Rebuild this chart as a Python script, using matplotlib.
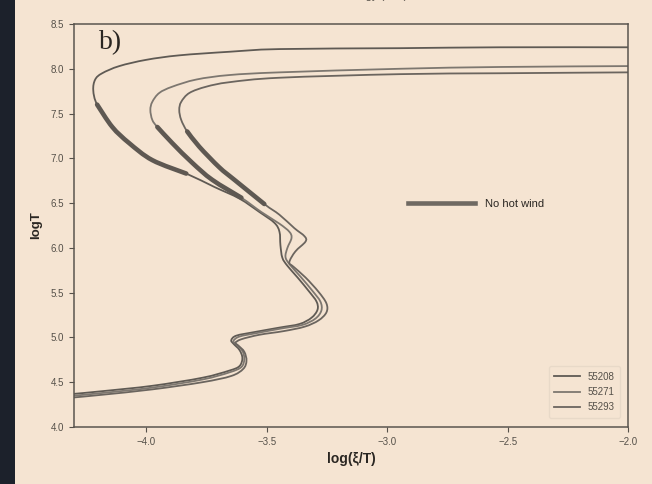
import numpy as np
import matplotlib
matplotlib.use("Agg")
import matplotlib.pyplot as plt
from matplotlib.lines import Line2D
from matplotlib.patches import Rectangle, PathPatch
from matplotlib.path import Path

# ---------------- data ----------------
labels = ["55208", "55271", "55293"]

x_55208 = [-4.30, -4.183, -3.975, -3.767, -3.655, -3.613, -3.601, -3.613, -3.638, -3.647,
           -3.626, -3.551, -3.447, -3.364, -3.314, -3.289, -3.293, -3.323, -3.372, -3.414,
           -3.435, -3.443, -3.447, -3.468, -3.530, -3.613, -3.717, -3.834, -3.975, -4.071,
           -4.141, -4.204, -4.220, -4.212, -4.183, -4.112, -4.000, -3.863, -3.655, -3.447,
           -2.948, -2.533, -2.0]
y_55208 = [4.37, 4.40, 4.46, 4.55, 4.63, 4.68, 4.77, 4.86, 4.93, 4.97,
           5.02, 5.06, 5.11, 5.15, 5.22, 5.31, 5.40, 5.51, 5.67, 5.80,
           5.89, 6.03, 6.18, 6.28, 6.40, 6.55, 6.68, 6.83, 6.98, 7.17,
           7.35, 7.60, 7.76, 7.88, 7.95, 8.03, 8.10, 8.15, 8.19, 8.22,
           8.23, 8.24, 8.24]

x_55271 = [-4.30, -4.183, -3.975, -3.767, -3.655, -3.605, -3.593, -3.601, -3.626, -3.638,
           -3.613, -3.539, -3.439, -3.352, -3.298, -3.273, -3.277, -3.310, -3.360, -3.406,
           -3.422, -3.414, -3.397, -3.406, -3.447, -3.522, -3.605, -3.726, -3.809, -3.892,
           -3.954, -3.975, -3.983, -3.975, -3.946, -3.892, -3.792, -3.655, -3.447, -2.948,
           -2.533, -2.0]
y_55271 = [4.35, 4.38, 4.44, 4.53, 4.61, 4.67, 4.76, 4.85, 4.92, 4.96,
           5.01, 5.05, 5.10, 5.14, 5.21, 5.30, 5.40, 5.52, 5.68, 5.82,
           5.90, 6.00, 6.11, 6.18, 6.27, 6.40, 6.56, 6.76, 6.95, 7.17,
           7.35, 7.43, 7.54, 7.63, 7.73, 7.80, 7.88, 7.93, 7.96, 8.00,
           8.02, 8.03]

x_55293 = [-4.30, -4.183, -3.975, -3.767, -3.647, -3.597, -3.584, -3.593, -3.618, -3.630,
           -3.605, -3.530, -3.431, -3.343, -3.285, -3.252, -3.252, -3.285, -3.339, -3.389,
           -3.406, -3.381, -3.339, -3.343, -3.385, -3.447, -3.510, -3.634, -3.697, -3.780,
           -3.830, -3.855, -3.863, -3.855, -3.821, -3.751, -3.655, -3.447, -2.948, -2.533,
           -2.0]
y_55293 = [4.33, 4.36, 4.42, 4.50, 4.57, 4.65, 4.74, 4.84, 4.91, 4.94,
           4.98, 5.03, 5.07, 5.12, 5.19, 5.28, 5.38, 5.51, 5.67, 5.79,
           5.84, 5.96, 6.07, 6.13, 6.22, 6.37, 6.49, 6.76, 6.90, 7.13,
           7.30, 7.43, 7.54, 7.63, 7.73, 7.80, 7.85, 7.90, 7.94, 7.95,
           7.96]

# logT range of the "no hot wind" (thick) part of each curve
nohw_lo = [6.83, 6.56, 6.49]
nohw_hi = [7.60, 7.35, 7.30]

xticks = [-4.0, -3.5, -3.0, -2.5, -2.0]
yticks = [4.0, 4.5, 5.0, 5.5, 6.0, 6.5, 7.0, 7.5, 8.0, 8.5]

# ---------------- style ----------------
BG = "#f5e4d2"
DARK = "#1c212b"
line_colors = ["#5f5a54", "#7d7770", "#6b655f"]
thick_color = "#5e5852"

plt.rcParams["font.family"] = ["Liberation Sans", "DejaVu Sans"]


def smooth_path(xv, yv):
    """Smooth curve through the data points (Catmull-Rom drawn as cubic Beziers)."""
    p = np.column_stack([xv, yv])
    n = len(p)
    verts = [p[0]]
    codes = [Path.MOVETO]
    for i in range(n - 1):
        p0 = p[i - 1] if i > 0 else p[i]
        p1 = p[i]
        p2 = p[i + 1]
        p3 = p[i + 2] if i + 2 < n else p[i + 1]
        c1 = p1 + (p2 - p0) / 6.0
        c2 = p2 - (p3 - p1) / 6.0
        verts += [c1, c2, p2]
        codes += [Path.CURVE4] * 3
    return Path(verts, codes)


fig = plt.figure(figsize=(6.52, 4.84), dpi=100, facecolor=BG)
ax = fig.add_axes([74 / 652, 1 - 427 / 484, (628 - 74) / 652, (427 - 24) / 484])
ax.set_facecolor(BG)

# dark strip at the left edge of the screenshot
fig.patches.append(Rectangle((0, 0), 15 / 652, 1, transform=fig.transFigure,
                             facecolor=DARK, edgecolor="none", zorder=-1))

xs = [x_55208, x_55271, x_55293]
ys = [y_55208, y_55271, y_55293]

handles = []
for xv, yv, c, lab, lo, hi in zip(xs, ys, line_colors, labels, nohw_lo, nohw_hi):
    xv = np.asarray(xv)
    yv = np.asarray(yv)
    ax.add_patch(PathPatch(smooth_path(xv, yv), facecolor="none", edgecolor=c,
                           lw=1.3, capstyle="round", joinstyle="round", zorder=2))
    handles.append(Line2D([], [], color=c, lw=1.3, label=lab))
    idx = np.where((yv >= lo - 1e-6) & (yv <= hi + 1e-6))[0]
    i0, i1 = idx.min(), idx.max()
    ax.add_patch(PathPatch(smooth_path(xv[i0:i1 + 1], yv[i0:i1 + 1]), facecolor="none",
                           edgecolor=thick_color, lw=3.3, capstyle="round",
                           joinstyle="round", zorder=3))

ax.set_xlim(-4.3, -2.0)
ax.set_ylim(4.0, 8.5)
ax.set_xticks(xticks)
ax.set_yticks(yticks)
ax.set_xticklabels([f"{t:.1f}".replace("-", "\u2212") for t in xticks])
ax.set_yticklabels([f"{t:.1f}" for t in yticks])
ax.tick_params(labelsize=7, colors="#555049", length=3.5, width=0.8)
for s in ax.spines.values():
    s.set_color("#5a554f")
    s.set_linewidth(1.1)

ax.set_xlabel("log(\u03be/T)", fontsize=10, fontweight="bold", color="#2a2622", labelpad=4)
ax.set_ylabel("logT", fontsize=9.5, fontweight="bold", color="#2a2622", labelpad=6)

ax.text(0.045, 0.985, "b)", transform=ax.transAxes, fontsize=20, va="top", ha="left",
        family="Liberation Serif", color="#2a2622")

leg = ax.legend(handles=handles, loc="lower right", fontsize=7, handlelength=2.6,
                frameon=True, fancybox=True, framealpha=0.5, edgecolor="#ddd0c0",
                facecolor=BG, labelspacing=0.55, borderpad=0.6,
                bbox_to_anchor=(0.995, 0.01))
for t in leg.get_texts():
    t.set_color("#555049")
ax.add_artist(leg)

nohw = Line2D([], [], color="#6f6962", lw=3.3, label="No hot wind")
leg2 = ax.legend(handles=[nohw], loc="center left", bbox_to_anchor=(0.585, 0.553),
                 frameon=False, fontsize=8, handlelength=6.0, handletextpad=0.9)
for t in leg2.get_texts():
    t.set_color("#2a2622")

# partially cropped title at the very top of the screenshot
fig.text(0.575, 1.008, "Energy (keV)", ha="center", va="center", fontsize=8,
         color="#555049")

fig.savefig("out.png", dpi=100, facecolor=BG)
